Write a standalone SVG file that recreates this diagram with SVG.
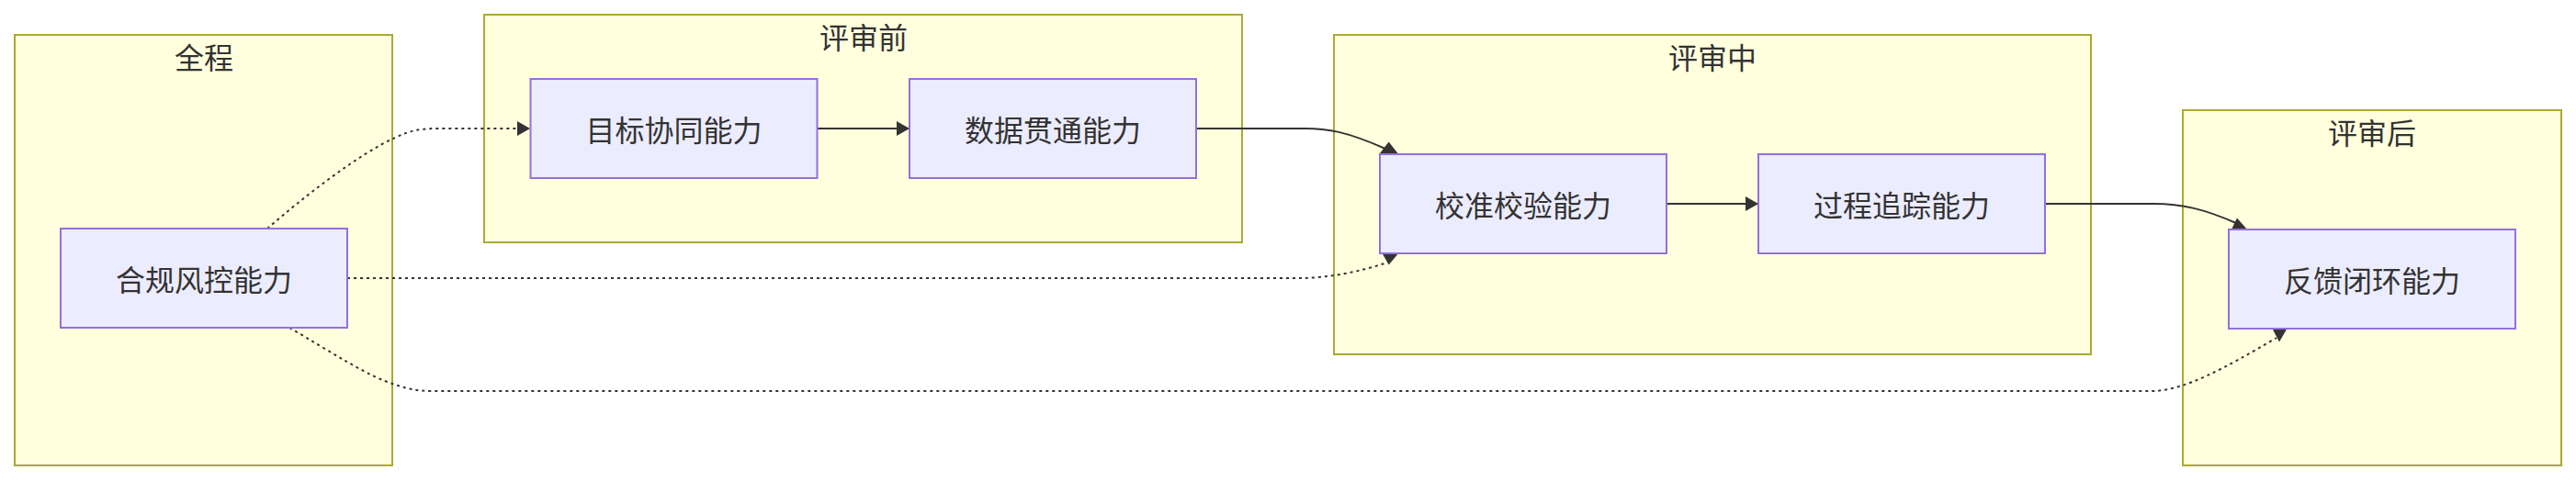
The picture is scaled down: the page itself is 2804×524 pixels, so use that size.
<svg xmlns="http://www.w3.org/2000/svg" width="2804" height="524" viewBox="0 0 2804 524">
<style>
.cluster rect{fill:#ffffde;stroke:#aaaa33;stroke-width:2}
.node rect{fill:#ececff;stroke:#9370db;stroke-width:2}
text{font-family:"Noto Sans CJK SC","Noto Sans",sans-serif;font-size:32px;fill:#333333;text-anchor:middle;dominant-baseline:central}
.edge{fill:none;stroke:#333333;stroke-width:2}
.dotted{stroke-dasharray:3 4}
.ah{fill:#333333;stroke:none}
</style>
<defs>
<marker id="arrow" viewBox="0 0 14 16" refX="14" refY="8" markerWidth="14" markerHeight="16" markerUnits="userSpaceOnUse" orient="auto">
<path d="M0,0 L14,8 L0,16 z" fill="#333333"/>
</marker>
</defs>
<g id="clusters">
<g id="cluster-all" class="cluster"><rect x="16" y="38" width="411" height="469"/><text x="222" y="61">全程</text></g>
<g id="cluster-pre" class="cluster"><rect x="527" y="16" width="825" height="248"/><text x="940" y="39">评审前</text></g>
<g id="cluster-mid" class="cluster"><rect x="1452" y="38" width="824" height="348"/><text x="1864" y="61">评审中</text></g>
<g id="cluster-post" class="cluster"><rect x="2376" y="120" width="412" height="387"/><text x="2582" y="143">评审后</text></g>
</g>
<g id="connectors">
<path class="edge dotted" d="M291,249 C330,215 390,168 430,150 C445,143 455,140 475,140 L577,140" marker-end="url(#arrow)"/>
<path class="edge dotted" d="M378,303 L1415,303 C1445,303 1480,296 1510,286"/>
<path class="edge dotted" d="M315,357 C360,383 400,410 430,419 C445,424 455,426 470,426 L2345,426 C2380,424 2420,402 2478,368"/>
<path class="edge" d="M890,140 L990,140" marker-end="url(#arrow)"/>
<path class="edge" d="M1302,140 L1420,140 C1445,140 1465,143 1508,162"/>
<path class="edge" d="M1814,222 L1914,222" marker-end="url(#arrow)"/>
<path class="edge" d="M2226,222 L2345,222 C2375,222 2400,228 2434,243"/>
<polygon class="ah" points="1511.7,154.5 1500.5,169 1523,169"/>
<polygon class="ah" points="1504,275 1523,275 1511.7,288.5"/>
<polygon class="ah" points="2435,237.5 2428.5,251 2447,251"/>
<polygon class="ah" points="2473,357 2490,357 2481,372.5"/>
</g>
<g id="node-compliance" class="node"><rect x="66" y="249" width="312" height="108"/><text x="222" y="303">合规风控能力</text></g>
<g id="node-goal" class="node"><rect x="577.5" y="86" width="312" height="108"/><text x="733.5" y="140">目标协同能力</text></g>
<g id="node-data" class="node"><rect x="990" y="86" width="312" height="108"/><text x="1146" y="140">数据贯通能力</text></g>
<g id="node-calib" class="node"><rect x="1502" y="168" width="312" height="108"/><text x="1658" y="222">校准校验能力</text></g>
<g id="node-trace" class="node"><rect x="1914" y="168" width="312" height="108"/><text x="2070" y="222">过程追踪能力</text></g>
<g id="node-feedback" class="node"><rect x="2426" y="250" width="312" height="108"/><text x="2582" y="304">反馈闭环能力</text></g>
</svg>
